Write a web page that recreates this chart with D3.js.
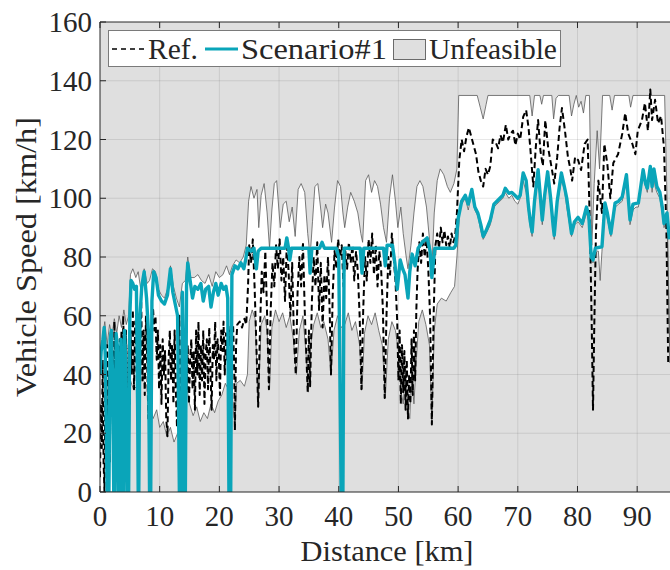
<!DOCTYPE html>
<html>
<head>
<meta charset="utf-8">
<script src="https://cdn.jsdelivr.net/npm/d3@7"></script>
<style>
  html, body { margin: 0; padding: 0; background: #fff; }
  svg { display: block; }
</style>
</head>
<body>
<svg id="chart" width="670" height="570"></svg>
<script>
// ---- data: speed profiles along the route (km, km/h) ----
const refKm = [0,0.15,0.3,0.45,0.6,0.75,0.9,1.05,1.2,1.35,1.5,1.65,1.8,1.95,2.1,2.25,2.4,2.55,2.7,2.85,3.0,3.15,3.3,3.45,3.6,3.75,3.9,4.05,4.2,4.35,4.5,4.65,4.8,4.95,
  5.1,5.3,5.5,5.7,5.9,6.1,6.3,6.5,6.7,6.9,7.1,7.3,7.5,7.7,7.9,8.1,8.3,8.5,8.7,8.9,9.1,9.3,
  9.5,9.7,9.9,10.1,10.3,10.5,10.7,10.9,11.1,11.3,11.5,11.7,11.9,12.1,12.3,12.5,12.7,12.9,13.1,13.3,13.5,13.7,13.9,14.1,14.3,14.5,14.7,
  14.9,15.1,15.3,15.5,15.7,15.9,16.1,16.3,16.5,16.7,16.9,17.1,17.3,17.5,17.7,17.9,18.1,18.3,18.5,18.7,18.9,19.1,19.3,19.5,19.7,19.9,20.1,20.3,20.5,20.7,20.9,21.1,21.3,21.5,21.7,21.9,22.1,
  22.3,22.5,22.6,22.8,23.0,23.4,23.8,24.2,24.5,24.8,25.0,25.3,25.6,25.9,26.2,26.5,26.8,27.1,27.4,27.7,28.0,28.3,28.6,28.9,29.2,29.5,29.8,30.1,30.4,30.7,31.0,31.3,31.6,31.9,32.2,32.5,32.8,33.1,33.4,33.7,34.0,34.3,34.6,34.8,35.0,35.2,35.5,35.8,36.1,36.4,36.7,37.0,37.3,37.6,37.9,38.2,38.5,38.7,39.0,39.3,39.6,39.9,40.2,40.5,40.8,41.1,41.4,41.7,42.0,42.3,42.6,42.9,43.2,43.5,43.8,44.1,44.4,44.7,45.0,45.3,45.6,45.9,46.2,46.5,46.8,47.1,47.4,47.7,48.0,48.3,48.6,48.9,49.2,49.5,49.8,50.0,50.2,50.4,50.6,50.8,51.0,51.2,51.4,51.6,51.8,52.0,52.2,52.4,52.6,52.8,53.0,53.2,53.5,53.8,54.1,54.4,54.7,55.0,55.3,55.6,55.9,56.2,56.5,56.8,57.1,57.4,57.7,58.0,58.3,58.6,58.9,59.2,59.5,59.8,
  60.2,60.6,61.0,61.4,61.8,62.2,62.6,63.0,63.4,63.8,64.2,64.6,65.0,65.4,65.8,66.3,66.7,67.1,67.5,68.0,68.4,68.8,69.2,69.6,70.0,70.4,70.9,71.4,71.8,72.1,72.6,73.0,73.4,73.8,74.2,74.6,75.1,75.7,76.1,76.6,77.0,77.4,77.9,78.4,78.8,79.1,79.6,80.1,80.6,81.2,81.7,82.1,82.4,82.6,82.8,83.1,83.5,84.1,84.5,85.0,85.5,86.0,86.8,87.5,88.0,88.5,89.2,89.7,90.1,90.8,91.3,91.8,92.2,92.5,93.0,93.5,94.0,94.5,94.9,95.2,95.6];
const refKmh = [5,30,15,45,10,0,35,20,50,25,40,10,55,30,48,15,58,35,50,20,45,5,52,30,55,25,60,40,20,55,35,10,50,30,
  55,40,62,35,58,45,30,60,42,65,38,55,33,60,45,25,50,40,58,62,55,60,
  45,55,35,50,30,52,40,48,25,19,45,55,38,50,30,55,35,22,45,60,30,48,20,40,55,35,50,
  30,45,52,35,48,28,55,40,58,33,50,38,55,30,47,52,35,56,42,28,50,45,58,38,52,47,33,55,48,58,40,54,45,57,50,56,55,
  57,40,21,50,57,58,56,59,57,70,84,78,86,70,50,29,55,75,68,82,60,35,62,78,70,84,76,86,72,80,65,85,75,60,78,52,40,68,80,70,85,62,45,34,55,36,65,80,70,85,62,78,56,74,66,80,60,40,68,82,76,86,80,84,70,82,76,85,78,84,72,82,75,60,35,62,80,72,86,78,88,74,84,70,82,76,62,32,60,80,74,88,80,72,58,38,55,30,50,34,48,28,45,25,40,30,52,33,55,38,62,75,85,78,88,80,86,76,60,23,60,84,88,83,90,85,89,84,87,83,88,85,87,95,
  113,120,116,121,124,121,118,115,109,106,104,110,108,111,120,119,117,121.5,119,125,120,122,123,118,122,120,127.7,130,124,117,104,117,126.6,116,111,126.6,117,110,105,114,124,130.7,123,114,110,106,114,113,109.6,118.5,120,89,55,28,55,89,106,95,118.5,111.7,100,112,115,122,129,122,118.5,115,123,126.6,132.4,123,137,126.6,133.5,125.5,128,117,89,44,44];

const scnKm = [0,0.2,0.5,0.7,0.9,1.2,1.5,1.7,1.9,2.1,2.3,2.5,2.7,2.9,3.1,3.3,3.5,3.7,3.9,4.1,4.3,4.5,4.8,5.0,5.2,5.5,5.8,6.1,6.3,6.4,6.5,6.7,7.0,7.4,7.8,8.1,8.3,8.5,8.7,9.0,9.4,9.8,10.3,10.8,11.3,11.8,12.2,12.6,13.0,13.3,13.6,13.8,14.0,14.1,14.3,14.5,14.7,15.1,15.5,15.9,16.4,16.9,17.3,17.7,18.2,18.6,19.0,19.4,19.8,20.3,20.7,21.1,21.4,21.6,21.9,22.1,22.6,23.1,23.6,24.1,24.4,24.7,25.3,25.8,26.2,26.5,27.0,31.0,31.3,31.6,31.8,32.1,35.0,35.2,35.5,36.8,37.2,37.6,39.6,40.0,40.4,40.7,40.9,43.6,43.9,44.2,47.5,47.8,48.1,49.0,49.4,49.8,50.3,50.7,51.1,51.6,51.9,52.3,52.8,53.3,54.0,54.8,55.3,55.6,56.1,59.3,59.6,60.0,60.6,61.2,61.7,62.3,62.8,63.3,63.8,64.2,64.7,65.4,66.0,66.5,67.0,67.5,67.9,68.5,69.0,69.5,70.0,70.4,70.9,71.4,71.8,72.1,72.4,72.8,73.4,73.8,74.1,74.5,75.0,75.5,75.9,76.1,76.6,77.3,77.8,78.2,78.6,79.0,79.5,80.1,80.8,81.5,81.9,82.3,82.6,83.0,84.1,84.6,85.0,85.6,86.3,86.9,87.5,88.2,88.8,89.3,90.2,90.6,91.0,91.4,91.7,92.2,92.5,92.8,93.3,93.8,94.2,94.5,95.0,95.4];
const scnKmh = [40,48,52,56,45,0,0,52,55,40,0,0,54,50,0,0,52,0,0,55,45,0,0,60,72,71,69,70,30,0,0,60,70,75,66,55,0,0,65,75,73,67,65,64,67,76,68,64,60,0,0,68,40,0,0,70,78,72,66,70,69,71,65,69,70,63,68,71,67,71,69,70,66,0,0,74,77,76,78,76,79,83,82,83,76,82,83,83,86.5,83,79,83,83,74.5,83,83,85,83,83,80,0,0,83,83,74.5,83,83,77,84,84,78,69,79,76,74,66,75,81,77,83,85,86.5,82,73,83,83,84,93,99,101,98,103,97,95,91,87,89,92.6,98,99,100,101,103.4,101.7,102,101,100,101,108.6,106,97,92,88.5,99,109.7,100,92.6,101,109,100,91,87.4,99,108.6,104,100,94,88,92,93.5,91.4,97,94,80,79,83,83.5,98.4,95,88,98.4,99,100.5,108,92.6,98,98.4,104,109.7,105,103.4,110.8,104,110,104,102,97,91.4,95,86];

const ubKm = [0,0.4,0.8,1.2,1.6,2.0,2.4,2.8,3.2,3.6,4.0,4.4,4.8,5.1,5.5,6.0,6.4,6.9,7.4,7.9,8.3,8.8,9.3,9.8,10.3,10.8,11.3,11.8,12.3,12.8,13.3,13.8,14.3,14.7,15.2,15.8,16.4,17.0,17.6,18.2,18.8,19.4,20.0,20.6,21.2,21.7,22.2,22.8,23.4,24.0,24.5,24.9,25.3,25.8,26.3,26.6,27.0,27.5,28.0,28.4,28.8,29.2,29.6,30.2,30.7,31.2,31.7,32.2,32.7,33.2,33.7,34.3,34.8,35.2,35.6,36.0,36.5,37.0,37.3,37.8,38.2,38.8,39.3,39.8,40.3,40.7,41.0,41.5,42.0,42.6,43.2,43.7,44.0,44.5,45.0,45.5,46.0,46.5,47.0,47.5,48.0,48.5,49.0,49.5,49.9,50.4,50.8,51.3,51.6,52.1,52.6,53.1,53.6,54.1,54.7,55.2,55.6,56.0,56.5,57.0,57.6,58.2,58.7,59.3,59.8,60.1,63.2,63.7,64.2,64.7,65.0,72.0,72.4,72.8,73.7,74.0,74.3,75.7,76.0,76.4,76.8,78.6,79.0,79.4,79.8,80.2,80.6,81.0,81.4,82.0,82.4,82.8,83.3,83.7,84.2,85.4,85.8,86.2,88.6,88.9,89.3,94.6,95.0,95.5];
const ubKmh = [44,52,58,50,57,53,59,54,60,56,62,57,60,74,76,73,75,68,76,71,72,76,75,69,67,66,69,77,70,66,63,71,72,80,73,73,74,72,71,74,70,75,73,74,77,74,77,79,78,80,84,99,104,100,103,90,101,105,95,83,96,105,106,90,98,99,92,97,87,103,105,102,88,80,92,104,105,96,90,98,95,85,97,106,104,95,90,97,102,99,95,88,85,106,108,102,106,104,98,90,85,100,108,99,90,97,88,80,76,84,95,104,106,104,97,86,76,95,106,110,108,104,102,105,110,135,135,131,127,132,135,135,128,135,135,132,135,135,127,134,135,135,128,132,135,131,133,129,135,135,84,105,123,110,135,135,130,135,135,131,135,135,100,44];

const lbKm = [0,4.8,5.1,5.6,6.2,6.8,7.3,7.9,8.4,8.9,9.5,10.0,10.6,11.2,11.8,12.4,13.0,13.5,14.0,14.5,15.0,15.6,16.2,16.8,17.4,18.0,18.6,19.2,19.8,20.4,21.0,21.5,22.0,22.6,22.9,23.5,24.2,24.7,25.0,25.5,26.0,26.5,27.0,27.6,28.0,28.4,28.8,29.4,30.0,30.6,31.2,31.8,32.4,32.9,33.4,34.0,34.6,34.9,35.3,35.8,36.4,37.0,37.5,38.2,38.7,39.2,39.8,40.4,41.0,41.6,42.2,42.8,43.5,43.9,44.3,44.9,45.5,46.1,46.7,47.3,47.8,48.3,48.9,49.5,50.0,50.4,50.8,51.2,51.6,51.9,52.2,52.6,53.0,53.4,54.0,54.6,55.2,55.6,56.0,56.5,57.2,58.0,58.8,59.4,59.8,60.3,60.6,61.2,61.7,62.3,62.8,63.3,63.8,64.2,64.7,65.4,66.0,66.5,67.0,67.5,67.9,68.5,69.0,69.5,70.0,70.4,70.9,71.4,71.8,72.1,72.4,72.8,73.4,73.8,74.1,74.5,75.0,75.5,75.9,76.1,76.6,77.3,77.8,78.2,78.6,79.0,79.5,80.1,80.8,81.5,81.9,82.3,82.6,83.0,83.5,83.8,84.1,84.6,85.0,85.6,86.3,86.9,87.5,88.2,88.8,89.3,89.8,90.2,90.6,91.0,91.4,91.7,92.0,92.2,92.5,92.8,93.0,93.3,93.8,94.2,94.5,95.0,95.5];
const lbKmh = [0,0,38,35,36,42,38,36,30,25,28,22,24,19,22,17,20,16,30,36,30,26,29,24,27,25,30,27,31,33,37,35,38,22,37,38,36,40,58,62,59,29,57,60,55,35,56,62,58,61,56,60,52,40,55,60,45,34,50,57,61,56,58,52,40,55,60,56,57,61,55,58,50,35,54,60,57,61,55,50,32,52,58,55,48,35,30,42,28,25,40,30,45,58,62,57,50,23,55,64,66,65,68,70,80,97,98,100,96,102,96,94,89,86,88,91,97,98,99,100,102,100,101,99,98,100,106,102,95,90,87,98,107,98,91,100,107,98,90,86,98,106,103,97,92,87,91,92,90,95,92,79,78,82,82,72,82,97,93,87,97,98,99,106,91,96,97,97,103,108,104,102,108,109,102,108,104,102,100,95,90,93,44];

const xTicks = [0,10,20,30,40,50,60,70,80,90];
const yTicks = [0,20,40,60,80,100,120,140,160];
const legendLabels = ["Ref.", "Scenario#1", "Unfeasible"];

// ---- layout ----
const FONT = "'Liberation Serif', 'DejaVu Serif', Lato, serif";
const svg = d3.select("#chart").attr("font-family", FONT);
const plot = { left: 100, right: 670, top: 22, bottom: 492 };
const x = d3.scaleLinear().domain([0, 95.5]).range([plot.left, plot.right]);
const y = d3.scaleLinear().domain([0, 160]).range([plot.bottom, plot.top]);

const AXIS = "#262626";
const GRAY = "#dfdfdf";
const TEAL = "#0aa5b9";

svg.append("defs").append("clipPath").attr("id", "plotClip")
  .append("rect").attr("x", plot.left).attr("y", plot.top)
  .attr("width", plot.right - plot.left).attr("height", plot.bottom - plot.top);

const g = svg.append("g").attr("clip-path", "url(#plotClip)");

// unfeasible background
g.append("rect")
  .attr("x", plot.left).attr("y", plot.top)
  .attr("width", plot.right - plot.left).attr("height", plot.bottom - plot.top)
  .attr("fill", GRAY);

const zip = (ks, vs) => ks.map((k, i) => [k, vs[i]]);
const ub = zip(ubKm, ubKmh);
const lb = zip(lbKm, lbKmh);
const ref = zip(refKm, refKmh);
const scn = zip(scnKm, scnKmh);

const line = d3.line().x(d => x(d[0])).y(d => y(d[1]));

// feasible band (white) between lower and upper speed limits
g.append("path")
  .attr("d", line(ub.concat(lb.slice().reverse())) + "Z")
  .attr("fill", "#ffffff");

// grid
g.append("g").selectAll("line").data(xTicks.slice(1)).join("line")
  .attr("x1", d => x(d)).attr("x2", d => x(d))
  .attr("y1", plot.top).attr("y2", plot.bottom)
  .attr("stroke", AXIS).attr("stroke-opacity", 0.11).attr("stroke-width", 1);
g.append("g").selectAll("line").data(yTicks.slice(1, -1)).join("line")
  .attr("x1", plot.left).attr("x2", plot.right)
  .attr("y1", d => y(d)).attr("y2", d => y(d))
  .attr("stroke", AXIS).attr("stroke-opacity", 0.11).attr("stroke-width", 1);

// limit outlines
[ub, lb].forEach(pts => {
  g.append("path").attr("d", line(pts))
    .attr("fill", "none").attr("stroke", "#5a5a5a").attr("stroke-width", 0.8)
    .attr("stroke-linejoin", "round");
});

// reference profile
g.append("path").attr("d", line(ref))
  .attr("fill", "none").attr("stroke", "#000").attr("stroke-width", 2)
  .attr("stroke-dasharray", "6,3.5").attr("stroke-linejoin", "round");

// scenario profile
g.append("path").attr("d", line(scn))
  .attr("fill", "none").attr("stroke", TEAL).attr("stroke-width", 3.4)
  .attr("stroke-linejoin", "round");

// ---- axes box, ticks ----
const axes = svg.append("g");
axes.append("line").attr("x1", plot.left).attr("x2", plot.left)
  .attr("y1", plot.top).attr("y2", plot.bottom).attr("stroke", AXIS).attr("stroke-width", 1);
axes.append("line").attr("x1", plot.left).attr("x2", plot.right)
  .attr("y1", plot.bottom).attr("y2", plot.bottom).attr("stroke", AXIS).attr("stroke-width", 1);
axes.append("line").attr("x1", plot.left).attr("x2", plot.right)
  .attr("y1", plot.top).attr("y2", plot.top).attr("stroke", AXIS).attr("stroke-width", 1);

const TL = 6;
axes.selectAll(".xt").data(xTicks).join("line")
  .attr("x1", d => x(d)).attr("x2", d => x(d))
  .attr("y1", plot.bottom).attr("y2", plot.bottom - TL).attr("stroke", AXIS);
axes.selectAll(".xtt").data(xTicks).join("line")
  .attr("x1", d => x(d)).attr("x2", d => x(d))
  .attr("y1", plot.top).attr("y2", plot.top + TL).attr("stroke", AXIS);
axes.selectAll(".yt").data(yTicks).join("line")
  .attr("x1", plot.left).attr("x2", plot.left + TL)
  .attr("y1", d => y(d)).attr("y2", d => y(d)).attr("stroke", AXIS);

const FS = 29;
axes.selectAll(".xl").data(xTicks).join("text")
  .attr("x", d => x(d)).attr("y", plot.bottom + 34)
  .attr("text-anchor", "middle").attr("font-size", FS).attr("fill", AXIS)
  .text(d => d);
axes.selectAll(".yl").data(yTicks).join("text")
  .attr("x", plot.left - 8).attr("y", d => y(d) + 10)
  .attr("text-anchor", "end").attr("font-size", FS).attr("fill", AXIS)
  .text(d => d);

svg.append("text").attr("x", 387).attr("y", 561)
  .attr("text-anchor", "middle").attr("font-size", FS).attr("fill", AXIS)
  .attr("textLength", 173).attr("lengthAdjust", "spacingAndGlyphs")
  .text("Distance [km]");
svg.append("text")
  .attr("transform", `translate(36,${(plot.top + plot.bottom) / 2}) rotate(-90)`)
  .attr("text-anchor", "middle").attr("font-size", FS).attr("fill", AXIS)
  .attr("textLength", 280).attr("lengthAdjust", "spacingAndGlyphs")
  .text("Vehicle Speed [km/h]");

// ---- legend ----
const lg = svg.append("g");
lg.append("rect").attr("x", 108.5).attr("y", 30.5).attr("width", 452).attr("height", 36)
  .attr("fill", "#fff").attr("stroke", "#7a7a7a").attr("stroke-width", 1);
const ly = 49;
lg.append("line").attr("x1", 112).attr("x2", 145).attr("y1", ly).attr("y2", ly)
  .attr("stroke", "#000").attr("stroke-width", 1.5).attr("stroke-dasharray", "5,4");
lg.append("text").attr("x", 148).attr("y", ly + 10).attr("font-size", FS).attr("fill", AXIS)
  .attr("textLength", 50).attr("lengthAdjust", "spacingAndGlyphs")
  .text(legendLabels[0]);
lg.append("line").attr("x1", 205).attr("x2", 238).attr("y1", ly).attr("y2", ly)
  .attr("stroke", TEAL).attr("stroke-width", 3);
lg.append("text").attr("x", 241).attr("y", ly + 10).attr("font-size", FS).attr("fill", AXIS)
  .attr("textLength", 146).attr("lengthAdjust", "spacingAndGlyphs")
  .text(legendLabels[1]);
lg.append("rect").attr("x", 393.5).attr("y", 39.5).attr("width", 32).attr("height", 20)
  .attr("fill", GRAY).attr("stroke", "#6a6a6a").attr("stroke-width", 1);
lg.append("text").attr("x", 429).attr("y", ly + 10).attr("font-size", FS).attr("fill", AXIS)
  .attr("textLength", 128).attr("lengthAdjust", "spacingAndGlyphs")
  .text(legendLabels[2]);
</script>
</body>
</html>
